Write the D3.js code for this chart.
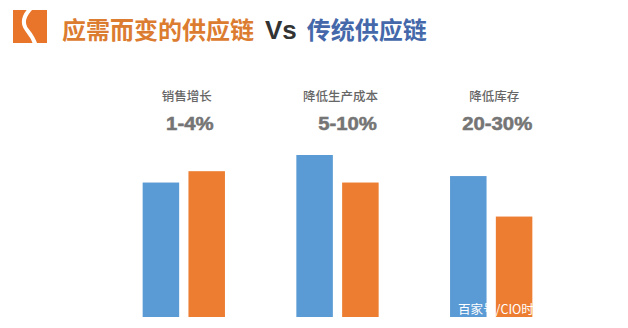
<!DOCTYPE html>
<html>
<head>
<meta charset="utf-8">
<script src="https://cdn.jsdelivr.net/npm/d3@7"></script>
<style>
  html, body { margin: 0; padding: 0; background: #ffffff; }
  svg { display: block; }
</style>
</head>
<body>
<svg id="chart" width="628" height="328"></svg>
<script>
// Categories, headline figures and the two series (relative scale, 0–100)
const categories = ["销售增长", "降低生产成本", "降低库存"];
const valueLabels = ["1-4%", "5-10%", "20-30%"];
const seriesNames = ["传统供应链", "应需而变的供应链"];
const traditional = [83, 100, 87];
const demandDriven = [90, 83, 62];

const colors = ["#5B9BD5", "#ED7D31"];
const cjk = "'Noto Sans CJK SC', 'Noto Sans', sans-serif";
// small horizontal nudge of each headline figure from its group centre
const figureShift = [6, 10, 6];

const svg = d3.select("#chart");

// ---- Title with logo ----
const logo = svg.append("g");
logo.append("rect").attr("x", 13).attr("y", 10).attr("width", 34).attr("height", 33)
  .attr("fill", "#E8752A");
logo.append("path")
  .attr("d", "M32,7 C22,17 22,24 27,30 S 34,40 36,46")
  .attr("fill", "none").attr("stroke", "#ffffff").attr("stroke-width", 4);

const title = svg.append("text")
  .attr("x", 62).attr("y", 39)
  .attr("font-family", cjk).attr("font-weight", 700).attr("font-size", 24);
title.append("tspan").attr("fill", "#DC7C30").text("应需而变的供应链");
title.append("tspan").attr("fill", "#333333").attr("dx", 11)
  .attr("font-family", "'Liberation Sans', Arial, sans-serif").attr("font-size", 26).text("Vs");
title.append("tspan").attr("fill", "#4468AA").attr("dx", 10).text("传统供应链");

// ---- Scales ----
const x0 = d3.scaleBand()
  .domain(categories)
  .range([107, 568])
  .paddingInner(0.4645)
  .paddingOuter(0.232);

const x1 = d3.scaleBand()
  .domain([0, 1])
  .range([0, x0.bandwidth()])
  .paddingInner(0.203);

const y = d3.scaleLinear().domain([0, 100]).range([317, 155]);

const rows = categories.map((c, i) => ({
  category: c,
  label: valueLabels[i],
  shift: figureShift[i],
  values: [traditional[i], demandDriven[i]]
}));

// ---- Bars ----
const groups = svg.append("g").selectAll("g")
  .data(rows).join("g")
  .attr("transform", d => `translate(${x0(d.category)},0)`);

groups.selectAll("rect")
  .data(d => d.values.map((v, k) => ({ k, v })))
  .join("rect")
  .attr("x", d => x1(d.k))
  .attr("y", d => y(d.v))
  .attr("width", x1.bandwidth())
  .attr("height", d => y(0) - y(d.v))
  .attr("fill", d => colors[d.k]);

// ---- Category names and headline figures ----
groups.append("text")
  .attr("x", x0.bandwidth() / 2 + 3)
  .attr("y", 101)
  .attr("text-anchor", "middle")
  .attr("font-family", cjk).attr("font-size", 12.5).attr("font-weight", 500)
  .attr("fill", "#666666")
  .text(d => d.category);

// wide, heavy figures: stretched horizontally and lightly stroked
groups.append("text")
  .attr("transform", d => `translate(${x0.bandwidth() / 2 + d.shift},130) scale(1.13,1)`)
  .attr("text-anchor", "middle")
  .attr("font-family", "'Liberation Sans', Arial, sans-serif")
  .attr("font-size", 18).attr("font-weight", 700)
  .attr("fill", "#757575")
  .attr("stroke", "#757575").attr("stroke-width", 0.5)
  .text(d => d.label);

// ---- Source mark ----
svg.append("text")
  .attr("x", 458).attr("y", 314)
  .attr("font-family", cjk).attr("font-size", 12.5)
  .attr("fill", "#ffffff")
  .text("百家号/CIO时代");
</script>
</body>
</html>
